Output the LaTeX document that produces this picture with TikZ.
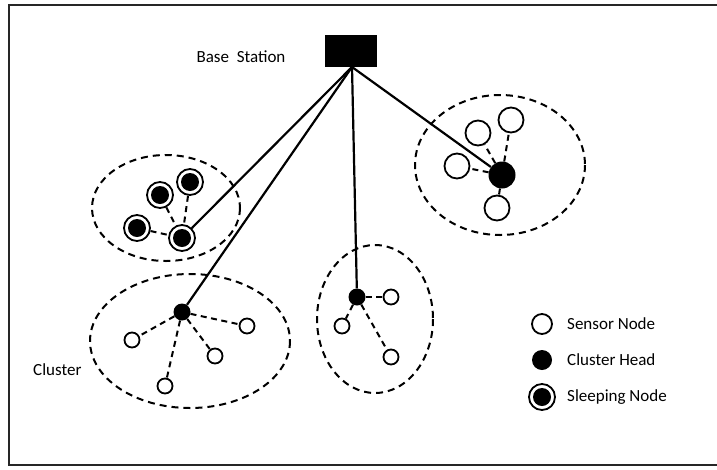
\documentclass[tikz,border=0pt]{standalone}
\usepackage{fontspec}
\setmainfont{Carlito}
\begin{document}
\begin{tikzpicture}[x=1pt,y=-1pt,
  link/.style={line width=2.2pt},
  dlink/.style={line width=2pt,dash pattern=on 6pt off 4.5pt},
  clus/.style={draw,line width=2pt,dash pattern=on 7pt off 5pt},
  sensor/.style={circle,draw,line width=1.8pt,fill=white,inner sep=0pt,minimum size=15pt},
  bigsensor/.style={circle,draw,line width=1.8pt,fill=white,inner sep=0pt,minimum size=25pt},
  head/.style={circle,fill=black,inner sep=0pt,minimum size=17pt},
  bighead/.style={circle,fill=black,inner sep=0pt,minimum size=27pt},
  sleep/.style={circle,draw,line width=1.8pt,fill=white,inner sep=0pt,minimum size=26pt,
    path picture={\fill[black] (path picture bounding box.center) circle (9pt);}},
  lbl/.style={font=\fontsize{17}{20}\selectfont,inner sep=0pt}
]
\useasboundingbox (0,0) rectangle (717,469);
\draw[line width=2.2pt,black!85] (9,5) rectangle (730,465);

% base station
\node[draw=none,fill=black,minimum width=52pt,minimum height=32pt,inner sep=0pt] (bs) at (351,51) {};
\coordinate (bsb) at (352,67);
\node[lbl] (bslbl) at (241,57) {Base\ \ Station};

% cluster ellipses
\draw[clus] (166,208) ellipse (74 and 53);
\draw[clus] (190,341) ellipse (100 and 67);
\draw[clus] (375,319) ellipse (58 and 74);
\draw[clus] (500,165) ellipse (85 and 70);

% sleeping cluster
\node[sleep] (s1) at (160,195) {};
\node[sleep] (s2) at (190,182) {};
\node[sleep] (s3) at (137,228) {};
\node[sleep] (s4) at (182,238) {};
\draw[dlink] (s3) -- (s4);
\draw[dlink] (s1) -- (s4);
\draw[dlink] (s2) -- (s4);

% bottom-left cluster
\node[head] (h1) at (182,312) {};
\node[sensor] (a1) at (132,340) {};
\node[sensor] (a2) at (247,326) {};
\node[sensor] (a3) at (215,356) {};
\node[sensor] (a4) at (165,386) {};
\foreach \n in {a1,a2,a3,a4} \draw[dlink] (h1) -- (\n);

% middle cluster
\node[head] (h2) at (357,297) {};
\node[sensor] (b1) at (391,297) {};
\node[sensor] (b2) at (342,326) {};
\node[sensor] (b3) at (391,357) {};
\foreach \n in {b1,b2,b3} \draw[dlink] (h2) -- (\n);

% right cluster
\node[bighead] (h3) at (502,175) {};
\node[bigsensor] (c1) at (478,133) {};
\node[bigsensor] (c2) at (511,120) {};
\node[bigsensor] (c3) at (457,166) {};
\node[bigsensor] (c4) at (497,208) {};
\foreach \n in {c1,c2,c3,c4} \draw[dlink] (h3) -- (\n);

% links to base station
\draw[link] (bsb) -- (s4);
\draw[link] (bsb) -- (h1);
\draw[link] (bsb) -- (h2);
\draw[link] (bsb) -- (h3);

\node[lbl,anchor=west] (cl) at (33,370) {Cluster};

% legend
\node[sensor,minimum size=20pt] (l1) at (542,324) {};
\node[head,minimum size=20pt] (l2) at (542,360) {};
\node[sleep] (l3) at (542,397) {};
\node[lbl,anchor=west] (t1) at (567,324) {Sensor Node};
\node[lbl,anchor=west] (t2) at (567,360) {Cluster Head};
\node[lbl,anchor=west] (t3) at (567,397) {Sleeping Node};
\end{tikzpicture}
\end{document}
